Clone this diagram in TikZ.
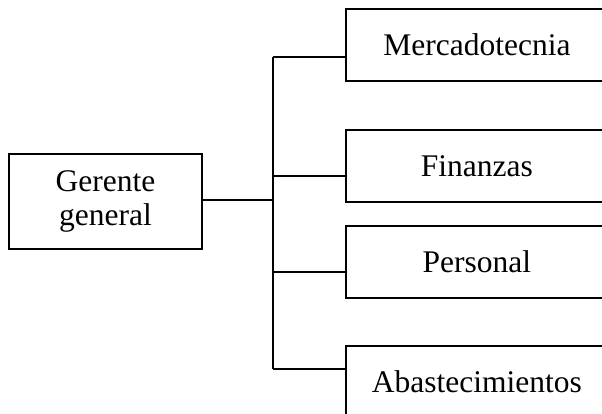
\documentclass[tikz,border=0pt]{standalone}
\usepackage{fontspec}
\setmainfont{Liberation Serif}
\begin{document}
\begin{tikzpicture}[x=1pt,y=-1pt,
  box/.style={draw=black,line width=1.8pt,fill=white,inner sep=0pt,
    font=\fontsize{31.5}{35}\selectfont,align=center},
  unit/.style={box,minimum width=262pt,minimum height=72pt,anchor=north west},
  link/.style={draw=black,line width=1.8pt}]
\useasboundingbox (0,0) rectangle (602,414);
\clip (0,0) rectangle (602,414);

% head of the organisation
\node[box,minimum width=193pt,minimum height=95pt,anchor=north west] (gg) at (8,153) {Gerente\\[-1pt]general};

% departments
\node[unit] (merc) at (345,8)   {Mercadotecnia};
\node[unit] (fin)  at (345,129) {Finanzas};
\node[unit] (pers) at (345,225) {Personal};
\node[unit] (abas) at (345,345) {Abastecimientos};

% trunk of the tree
\coordinate (t0) at (273,200);
\coordinate (b1) at (273,57);
\coordinate (b2) at (273,176);
\coordinate (b3) at (273,272);
\coordinate (b4) at (273,369);

\draw[link] (gg.east |- t0) -- (t0);
\draw[link] (b1) -- (b4);
\draw[link] (b1) -- (b1 -| merc.west);
\draw[link] (b2) -- (b2 -| fin.west);
\draw[link] (b3) -- (b3 -| pers.west);
\draw[link] (b4) -- (b4 -| abas.west);
\end{tikzpicture}
\end{document}
